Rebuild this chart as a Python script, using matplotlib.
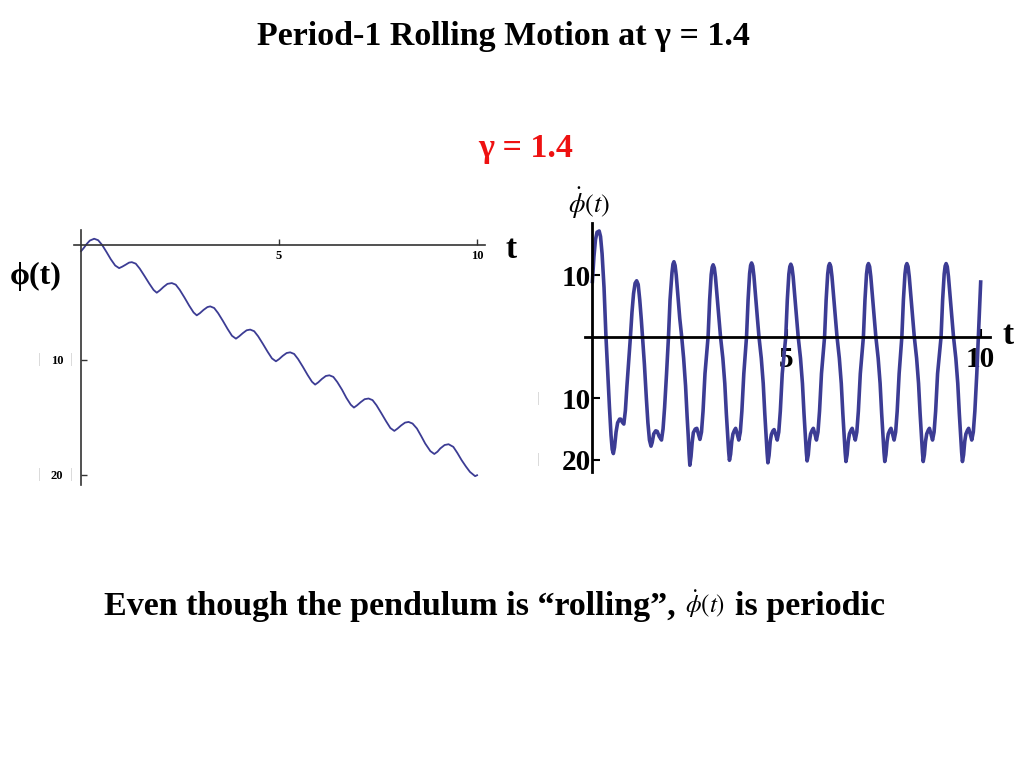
import matplotlib
matplotlib.use("Agg")
import matplotlib.pyplot as plt
import matplotlib.transforms as mtransforms

# phi(t)
phi_t = [0.00, 0.07, 0.14, 0.22, 0.33, 0.43, 0.53, 0.64, 0.75, 0.86, 0.96,
         1.04, 1.13, 1.21, 1.28, 1.38, 1.48, 1.60, 1.72, 1.83, 1.91,
         1.99, 2.08, 2.18, 2.29, 2.39, 2.49, 2.61, 2.73, 2.84, 2.92,
         3.00, 3.09, 3.19, 3.26, 3.36, 3.46, 3.58, 3.70, 3.81, 3.91,
         3.99, 4.08, 4.18, 4.27, 4.37, 4.47, 4.59, 4.71, 4.82, 4.92,
         5.00, 5.09, 5.19, 5.28, 5.38, 5.48, 5.60, 5.72, 5.83, 5.91,
         5.99, 6.08, 6.18, 6.27, 6.37, 6.47, 6.59, 6.70, 6.81, 6.89,
         6.97, 7.06, 7.16, 7.26, 7.36, 7.46, 7.58, 7.70, 7.81, 7.91,
         7.99, 8.08, 8.18, 8.27, 8.37, 8.48, 8.59, 8.69, 8.82, 8.92,
         9.00, 9.07, 9.18, 9.28, 9.40, 9.50, 9.61, 9.72, 9.82, 9.95, 10.00]
phi_v = [-0.54, -0.25, 0.08, 0.38, 0.54, 0.41, 0.00, -0.61, -1.25, -1.79, -2.02,
         -1.89, -1.71, -1.54, -1.50, -1.63, -2.06, -2.70, -3.36, -3.92, -4.16,
         -3.95, -3.66, -3.39, -3.32, -3.46, -3.91, -4.58, -5.29, -5.88, -6.13,
         -5.94, -5.66, -5.41, -5.35, -5.49, -5.94, -6.61, -7.32, -7.91, -8.16,
         -7.96, -7.69, -7.43, -7.37, -7.51, -7.95, -8.61, -9.30, -9.88, -10.13,
         -9.94, -9.66, -9.41, -9.35, -9.49, -9.94, -10.61, -11.32, -11.91, -12.16,
         -11.96, -11.67, -11.41, -11.35, -11.49, -11.94, -12.61, -13.32, -13.91, -14.16,
         -13.96, -13.69, -13.43, -13.37, -13.51, -13.96, -14.64, -15.34, -15.94, -16.19,
         -15.99, -15.72, -15.47, -15.41, -15.55, -15.98, -16.65, -17.29, -17.95, -18.20,
         -18.00, -17.72, -17.42, -17.35, -17.58, -18.10, -18.74, -19.30, -19.76, -20.13, -20.05]

# phi-dot(t), one line per swing
phidot_t = [
    0.00, 0.04, 0.08, 0.12, 0.175, 0.21, 0.25, 0.30, 0.35, 0.40, 0.44, 0.48, 0.51, 0.54, 0.57, 0.61,
    0.65, 0.70, 0.73, 0.77, 0.81, 0.85, 0.89, 0.94,
    0.98, 1.02, 1.06, 1.10, 1.14, 1.18, 1.22, 1.26, 1.29, 1.34, 1.39, 1.43, 1.47, 1.51, 1.54, 1.58,
    1.63, 1.67, 1.72, 1.78, 1.82, 1.86, 1.91,
    1.96, 2.00, 2.05, 2.075, 2.10, 2.13, 2.16, 2.21, 2.25, 2.30, 2.35, 2.40, 2.44, 2.47, 2.49, 2.51,
    2.54, 2.57, 2.60, 2.65, 2.69, 2.72, 2.77, 2.81, 2.85, 2.90,
    2.98, 3.02, 3.06, 3.085, 3.11, 3.14, 3.17, 3.22, 3.26, 3.30, 3.36, 3.41, 3.45, 3.48, 3.51, 3.53,
    3.56, 3.59, 3.62, 3.66, 3.69, 3.73, 3.77, 3.81, 3.85, 3.90,
    3.97, 4.01, 4.05, 4.075, 4.10, 4.13, 4.16, 4.21, 4.25, 4.29, 4.35, 4.40, 4.44, 4.47, 4.50, 4.52,
    4.55, 4.58, 4.61, 4.65, 4.68, 4.72, 4.76, 4.80, 4.84, 4.89,
    4.98, 5.02, 5.06, 5.085, 5.11, 5.14, 5.17, 5.22, 5.26, 5.30, 5.36, 5.41, 5.45, 5.48, 5.51, 5.53,
    5.56, 5.59, 5.62, 5.66, 5.69, 5.73, 5.77, 5.81, 5.85, 5.90,
    5.98, 6.02, 6.06, 6.085, 6.11, 6.14, 6.17, 6.22, 6.26, 6.30, 6.36, 6.41, 6.45, 6.48, 6.51, 6.53,
    6.56, 6.59, 6.62, 6.66, 6.69, 6.73, 6.77, 6.81, 6.85, 6.90,
    6.98, 7.02, 7.06, 7.085, 7.11, 7.14, 7.17, 7.22, 7.26, 7.30, 7.36, 7.41, 7.45, 7.48, 7.51, 7.53,
    7.56, 7.59, 7.62, 7.66, 7.69, 7.73, 7.77, 7.81, 7.85, 7.90,
    7.97, 8.01, 8.05, 8.075, 8.10, 8.13, 8.16, 8.21, 8.25, 8.29, 8.35, 8.40, 8.44, 8.47, 8.50, 8.52,
    8.55, 8.58, 8.61, 8.65, 8.68, 8.72, 8.76, 8.80, 8.84, 8.89,
    8.98, 9.02, 9.06, 9.085, 9.11, 9.14, 9.17, 9.22, 9.26, 9.30, 9.36, 9.41, 9.45, 9.48, 9.51, 9.53,
    9.56, 9.59, 9.62, 9.66, 9.69, 9.73, 9.77, 9.81, 9.85, 9.90,
    9.94, 9.97, 10.00]
phidot_v = [
    9.0, 13.0, 15.8, 17.0, 17.2, 16.3, 13.5, 8.0, 0.0, -6.5, -11.5, -16.0, -18.3, -19.0, -18.0, -15.5,
    -14.0, -13.4, -13.4, -13.9, -14.2, -12.0, -8.0, -3.5,
    0.0, 4.0, 7.0, 8.7, 9.1, 8.5, 6.0, 2.8, 0.0, -4.5, -10.0, -14.0, -16.8, -17.8, -17.2, -15.8,
    -15.3, -15.4, -16.2, -16.8, -15.0, -11.5, -6.0,
    0.0, 6.0, 10.4, 11.8, 12.2, 11.6, 10.0, 6.2, 3.0, 0.0, -3.5, -8.0, -13.0, -16.3, -19.0, -20.9,
    -19.5, -17.2, -15.6, -15.0, -14.9, -15.6, -16.7, -15.5, -12.1, -6.0,
    0.0, 6.0, 10.1, 11.3, 11.7, 11.2, 9.7, 6.0, 3.0, 0.0, -3.5, -7.6, -12.5, -15.7, -18.7, -20.1,
    -19.1, -17.0, -15.8, -15.2, -14.9, -15.8, -16.8, -15.5, -12.1, -6.0,
    0.0, 6.0, 10.3, 11.6, 12.0, 11.5, 9.9, 6.0, 3.0, 0.0, -3.5, -7.6, -12.5, -15.7, -18.9, -20.5,
    -19.3, -17.0, -15.9, -15.3, -15.1, -15.9, -16.8, -15.5, -12.1, -6.0,
    0.0, 6.0, 10.2, 11.4, 11.8, 11.3, 9.8, 6.0, 3.0, 0.0, -3.5, -7.6, -12.5, -15.7, -18.8, -20.2,
    -19.2, -17.0, -15.8, -15.2, -14.9, -15.8, -16.8, -15.5, -12.1, -6.0,
    0.0, 6.0, 10.2, 11.5, 11.9, 11.4, 9.8, 6.0, 3.0, 0.0, -3.5, -7.6, -12.5, -15.7, -18.8, -20.3,
    -19.2, -17.0, -15.8, -15.2, -14.9, -15.8, -16.8, -15.5, -12.1, -6.0,
    0.0, 6.0, 10.2, 11.5, 11.9, 11.4, 9.8, 6.0, 3.0, 0.0, -3.5, -7.6, -12.5, -15.7, -18.8, -20.3,
    -19.2, -17.0, -15.8, -15.2, -14.9, -15.8, -16.8, -15.5, -12.1, -6.0,
    0.0, 6.0, 10.2, 11.5, 11.9, 11.4, 9.8, 6.0, 3.0, 0.0, -3.5, -7.6, -12.5, -15.7, -18.8, -20.3,
    -19.2, -17.0, -15.8, -15.2, -14.9, -15.8, -16.8, -15.5, -12.1, -6.0,
    0.0, 6.0, 10.2, 11.5, 11.9, 11.4, 9.8, 6.0, 3.0, 0.0, -3.5, -7.6, -12.5, -15.7, -18.8, -20.3,
    -19.2, -17.0, -15.8, -15.2, -14.9, -15.8, -16.8, -15.5, -12.1, -6.0,
    0.0, 4.5, 8.9]

xticks = [5, 10]
xticklabels = ["5", "10"]
left_yticks = [-10, -20]
left_yticklabels = ["10", "20"]
right_yticks = [10, -10, -20]
right_yticklabels = ["10", "10", "20"]

W, H = 1024, 768
linecolor = "#3c3c94"
big = 24.5

plt.rcParams["font.family"] = ["Liberation Serif", "DejaVu Serif"]
plt.rcParams["mathtext.fontset"] = "stix"


def figtext(fig, x, y, s, **kw):
    # x, y in pixels from the top-left corner of the slide
    return fig.text(x / W, 1 - y / H, s, **kw)


def axes_at(fig, x0, y0, x1, y1):
    return fig.add_axes([x0 / W, 1 - y1 / H, (x1 - x0) / W, (y1 - y0) / H])


def setup_axes(ax, spinecolor, spinewidth):
    for side in ["top", "right"]:
        ax.spines[side].set_visible(False)
    for side in ["left", "bottom"]:
        ax.spines[side].set_position(("data", 0))
        ax.spines[side].set_color(spinecolor)
        ax.spines[side].set_linewidth(spinewidth)
    ax.patch.set_alpha(0)


def faint_marks(fig, ax, xs, yvals):
    trans = mtransforms.blended_transform_factory(fig.transFigure, ax.transData)
    for y in yvals:
        for x in xs:
            ax.text(x / W, y, "|", transform=trans, color="#d0d0d0", fontsize=11,
                    ha="center", va="center", clip_on=False)


fig = plt.figure(figsize=(W / 100, H / 100), dpi=100)
fig.patch.set_facecolor("white")

# left panel: phi(t)
ax1 = axes_at(fig, 74, 230, 485, 485)
ax1.plot(phi_t, phi_v, color=linecolor, lw=1.3)
ax1.set_xlim(-0.18, 10.2)
ax1.set_ylim(-20.9, 1.3)
setup_axes(ax1, "#333333", 1.2)
ax1.set_xticks(xticks)
ax1.set_xticklabels(xticklabels, fontsize=9, fontweight="bold")
ax1.set_yticks(left_yticks)
ax1.set_yticklabels(left_yticklabels, fontsize=9, fontweight="bold")
ax1.tick_params(axis="x", direction="in", length=4, width=1, pad=4, colors="#333333", labelcolor="black")
ax1.tick_params(axis="y", direction="in", length=4, width=1, pad=13, colors="#333333", labelcolor="black")
faint_marks(fig, ax1, [39, 71], left_yticks)

# right panel: phi-dot(t)
ax2 = axes_at(fig, 585, 223, 990, 472)
ax2.plot(phidot_t, phidot_v, color=linecolor, lw=2.6)
ax2.set_xlim(-0.19, 10.24)
ax2.set_ylim(-22.0, 18.5)
setup_axes(ax2, "black", 2.0)
ax2.set_xticks(xticks)
ax2.set_xticklabels(xticklabels, fontsize=21, fontweight="bold")
ax2.set_yticks(right_yticks)
ax2.set_yticklabels(right_yticklabels, fontsize=21, fontweight="bold")
ax2.tick_params(axis="x", direction="in", length=6, width=1.5, pad=7)
ax2.tick_params(axis="y", direction="in", length=6, width=1.5, pad=1.0)
faint_marks(fig, ax2, [538], [-10, -20])

# axis names
figtext(fig, 36, 276, "\u03d5(t)", fontsize=23, fontweight="bold", ha="center", va="center")
figtext(fig, 511, 249, "t", fontsize=24, fontweight="bold", ha="center", va="center")
figtext(fig, 1008, 336, "t", fontsize=24, fontweight="bold", ha="center", va="center")
figtext(fig, 589, 203, r"$\dot{\phi}(t)$", fontsize=19, ha="center", va="center")

# slide text
figtext(fig, 503, 37, "Period-1 Rolling Motion at \u03b3 = 1.4", fontsize=big, fontweight="bold",
        ha="center", va="center")
figtext(fig, 526, 148, "\u03b3 = 1.4", fontsize=big, fontweight="bold", color="#ee1111",
        ha="center", va="center")
figtext(fig, 676, 607, "Even though the pendulum is \u201crolling\u201d,", fontsize=big, fontweight="bold",
        ha="right", va="center")
figtext(fig, 705, 604, r"$\dot{\phi}(t)$", fontsize=18, ha="center", va="center")
figtext(fig, 735, 607, "is periodic", fontsize=big, fontweight="bold", ha="left", va="center")

fig.savefig("out.png", dpi=100, facecolor="white")
